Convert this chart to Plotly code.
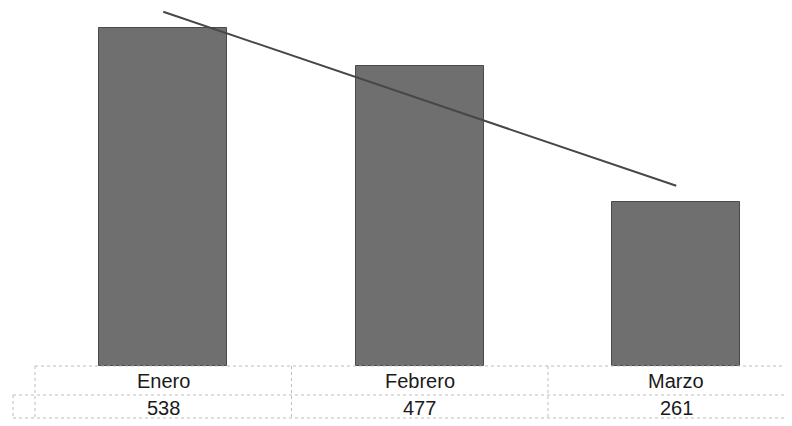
import numpy as np
import plotly.graph_objects as go

categories = ["Enero", "Febrero", "Marzo"]
values = [538, 477, 261]

# Linear trendline (least squares) like Excel's
idx = np.arange(len(values))
slope, intercept = np.polyfit(idx, values, 1)
trend = [slope * i + intercept for i in idx]

fig = go.Figure()
fig.add_trace(go.Bar(
    x=categories, y=values, width=0.5,
    marker=dict(color="#6f6f6f", line=dict(color="#4a4a4a", width=1)),
    showlegend=False, hoverinfo="skip",
))
fig.add_trace(go.Scatter(
    x=categories, y=trend, mode="lines",
    line=dict(color="#474747", width=2),
    showlegend=False, hoverinfo="skip",
))

OFF = 8.0          # page body margin
PLOT_TOP = 8.0     # page y of plot top
PLOT_BOT = 366.0   # page y of plot bottom
H = PLOT_BOT - PLOT_TOP
PLOT_LEFT = 35.0
W = 757.0

def py(px):
    return (PLOT_BOT - px) / H

def pxr(px):
    return (px - PLOT_LEFT) / W

line_style = dict(color="#bdbdbd", width=1, dash="dot")
shapes = []
shapes.append(dict(type="line", xref="paper", yref="paper", x0=0, x1=1, y0=py(366), y1=py(366), line=line_style))
shapes.append(dict(type="line", xref="paper", yref="paper", x0=pxr(13), x1=1, y0=py(395), y1=py(395), line=line_style))
shapes.append(dict(type="line", xref="paper", yref="paper", x0=pxr(13), x1=1, y0=py(418), y1=py(418), line=line_style))
shapes.append(dict(type="line", xref="paper", yref="paper", x0=0, x1=0, y0=py(366), y1=py(418), line=line_style))
shapes.append(dict(type="line", xref="paper", yref="paper", x0=pxr(13), x1=pxr(13), y0=py(395), y1=py(418), line=line_style))
for b in [0.5, 1.5]:
    shapes.append(dict(type="line", xref="x", yref="paper", x0=b, x1=b, y0=py(366), y1=py(418), line=line_style))

font = dict(family="Liberation Sans, Arial", size=20, color="#1a1a1a")
annotations = []
for c, v in zip(categories, values):
    annotations.append(dict(x=c, xref="x", y=py(381), yref="paper", yanchor="middle",
                            text=c, showarrow=False, font=font))
    annotations.append(dict(x=c, xref="x", y=py(408), yref="paper", yanchor="middle",
                            text=str(v), showarrow=False, font=font))

scale = 338.0 / 538.0  # px per unit
fig.update_layout(
    width=792 - OFF, height=426 - OFF,
    margin=dict(l=PLOT_LEFT - OFF, r=0, t=PLOT_TOP - OFF, b=(426 - OFF) - (H + PLOT_TOP - OFF)),
    paper_bgcolor="white", plot_bgcolor="white",
    xaxis=dict(range=[-0.5, -0.5 + W / 256.5], visible=False, type="category"),
    yaxis=dict(range=[0, H / scale], visible=False),
    shapes=shapes, annotations=annotations,
    bargap=0,
)
fig.write_html("out.html")
